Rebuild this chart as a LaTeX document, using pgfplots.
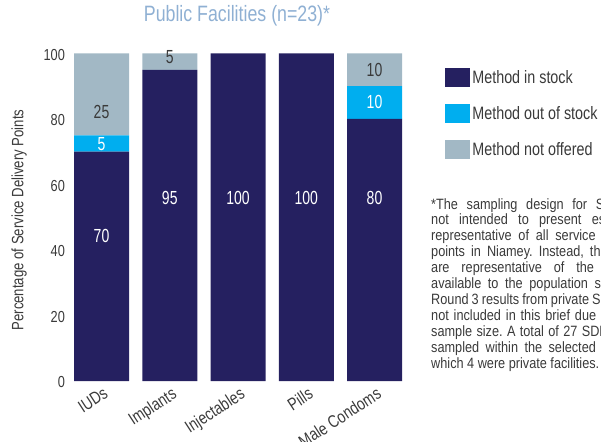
\documentclass[border=0pt]{standalone}
\usepackage{fontspec}
\setmainfont{Liberation Sans}[FakeStretch=0.8]
\newfontfamily\notefont{Liberation Sans}[FakeStretch=0.85]
\newfontfamily\valfont{Liberation Sans}[FakeStretch=0.74]
\usepackage{pgfplots}
\pgfplotsset{compat=1.18}
\definecolor{instock}{HTML}{252060}
\definecolor{outstock}{HTML}{00AEEF}
\definecolor{notoff}{HTML}{A2B8C5}
\definecolor{titlecol}{HTML}{8FB0D3}
\definecolor{txt}{HTML}{3A3A3A}
\tikzset{vlab/.style={font=\valfont\fontsize{19}{21}\selectfont}}
\frenchspacing
\begin{document}
\begin{tikzpicture}
\useasboundingbox (0bp,0bp) rectangle (601bp,442bp);
\clip (0bp,0bp) rectangle (601bp,442bp);
\begin{axis}[
  at={(67.4bp,61bp)}, anchor=south west,
  scale only axis, width=341.25bp, height=327.5bp,
  ybar stacked, bar width=55bp,
  xmin=-0.5, xmax=4.5, ymin=0, ymax=100,
  clip=false,
  axis line style={draw=none},
  major tick length=0pt,
  xtick={0,1,2,3,4},
  xticklabels={IUDs,Implants,Injectables,Pills,Male Condoms},
  ytick={0,20,40,60,80,100},
  /pgf/number format/assume math mode=true,
  tick label style={font=\fontsize{16}{18}\selectfont, text=txt},
  x tick label style={font=\fontsize{17.5}{19}\selectfont, rotate=33, anchor=north east, inner sep=0pt, xshift=-2bp, yshift=-5bp},
  y tick label style={xshift=1bp, yshift=-1.5bp},
  ylabel={Percentage of Service Delivery Points},
  ylabel style={at={(axis description cs:-0.1418,0.4916)}, anchor=center, font=\fontsize{16.5}{18}\selectfont, text=txt},
  title={Public Facilities (n=23)*},
  title style={at={(axis description cs:0.497,1.096)}, anchor=center, font=\fontsize{22.3}{24}\selectfont, text=titlecol},
  legend cell align=left,
  legend style={at={(axis description cs:1.107,0.9557)}, anchor=north west, draw=none, fill=none, inner sep=0pt, row sep=17bp, font=\fontsize{18}{20}\selectfont, text=txt},
  legend image code/.code={\fill[#1] (0bp,-9.5bp) rectangle (25bp,9.5bp);},
]
\addplot[fill=instock, draw=none] coordinates {(0,70) (1,95) (2,100) (3,100) (4,80)};
\addplot[fill=outstock, draw=none] coordinates {(0,5) (1,0) (2,0) (3,0) (4,10)};
\addplot[fill=notoff, draw=none] coordinates {(0,25) (1,5) (2,0) (3,0) (4,10)};
\legend{Method in stock, Method out of stock, Method not offered}
\coordinate (a1) at (axis cs:0,44.3);
\coordinate (a2) at (axis cs:1,55.9);
\coordinate (a3) at (axis cs:2,55.9);
\coordinate (a4) at (axis cs:3,55.9);
\coordinate (a5) at (axis cs:4,55.9);
\coordinate (b1) at (axis cs:0,72.4);
\coordinate (b5) at (axis cs:4,85.2);
\coordinate (c1) at (axis cs:0,82.1);
\coordinate (c2) at (axis cs:1,98.9);
\coordinate (c5) at (axis cs:4,95);
\end{axis}
\node[vlab, white] at (a1) {70};
\node[vlab, white] at (a2) {95};
\node[vlab, white] at (a3) {100};
\node[vlab, white] at (a4) {100};
\node[vlab, white] at (a5) {80};
\node[vlab, white] at (b1) {5};
\node[vlab, white] at (b5) {10};
\node[vlab, txt] at (c1) {25};
\node[vlab, txt] at (c2) {5};
\node[vlab, txt] at (c5) {10};
\node[anchor=north west, inner sep=0pt, text width=215bp, align=justify, text=txt, font=\notefont\fontsize{15}{16}\selectfont] at (431bp,244bp) {%
*The sampling design for SDPs is\linebreak
not intended to present estimates\linebreak
representative of all service delivery\linebreak
points in Niamey. Instead, the SDPs\linebreak
are representative of the service\linebreak
available to the population sampled.\linebreak
Round 3 results from private SDPs are\linebreak
not included in this brief due to small\linebreak
sample size. A total of 27 SDPs were\linebreak
sampled within the selected EAs, of\linebreak
which 4 were private facilities.};
\end{tikzpicture}
\end{document}
